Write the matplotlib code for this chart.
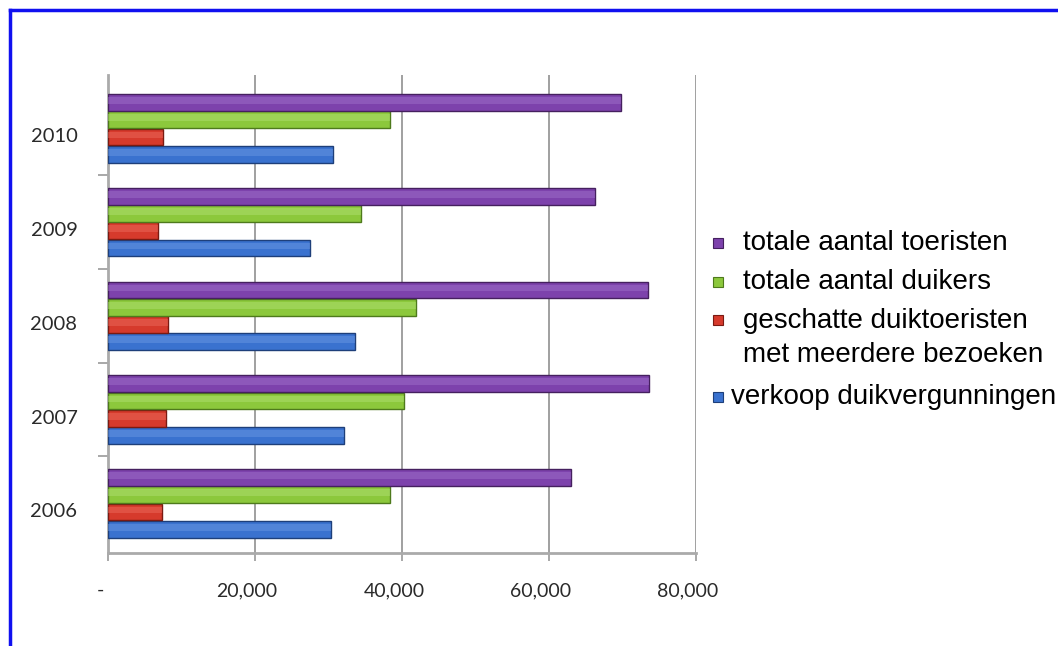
import matplotlib
matplotlib.use("Agg")
import matplotlib.pyplot as plt
import matplotlib.transforms as mtransforms
from matplotlib.patches import Rectangle
import numpy as np

years = ["2006", "2007", "2008", "2009", "2010"]
series_names = [
    "verkoop duikvergunningen",
    "geschatte duiktoeristen\nmet meerdere bezoeken",
    "totale aantal duikers",
    "totale aantal toeristen",
]
verkoop = [30400, 32100, 33600, 27500, 30600]
geschat = [7400, 7900, 8200, 6800, 7500]
duikers = [38400, 40300, 41900, 34400, 38400]
toeristen = [63000, 73600, 73500, 66300, 69800]
xticks = [0, 20000, 40000, 60000, 80000]
xticklabels = ["-", "20,000", "40,000", "60,000", "80,000"]

values = [verkoop, geschat, duikers, toeristen]
colors = ["#3A72CF", "#D63A2C", "#8CC83C", "#7D42AC"]
edges = ["#1E3F7A", "#7A1A12", "#4E7A1C", "#45205F"]
lights = ["#6E9BE4", "#EE6E60", "#B2E276", "#A274CC"]

W, H = 1058, 646
fig = plt.figure(figsize=(W / 100, H / 100), dpi=100)
fig.patch.set_facecolor("white")

# plot area in pixels
left, right, top, bottom = 108, 696, 75, 553
ax = fig.add_axes([left / W, (H - bottom) / H, (right - left) / W, (bottom - top) / H])

y = np.arange(len(years))
bh = 0.178
step = 0.184
offsets = np.array([-1.5, -0.5, 0.5, 1.5]) * step
for vals, off, c, e, lc in zip(values, offsets, colors, edges, lights):
    ax.barh(y + off, vals, height=bh, color=c, edgecolor=e, linewidth=1.0, zorder=3)
    ax.barh(y + off + bh * 0.12, vals, height=bh * 0.4, color=lc, linewidth=0,
            alpha=0.45, zorder=4)

ax.set_xlim(0, 80000)
ax.set_ylim(-0.53, 4.57)
ax.set_xticks(xticks)
ax.set_xticklabels(xticklabels, fontsize=14, color="#2A2A2A", family="Lato")
ax.set_yticks(y)
ax.set_yticklabels(years, fontsize=14.5, color="#2A2A2A", family="Lato")
ax.set_yticks(np.arange(len(years) - 1) + 0.5, minor=True)
ax.tick_params(axis="y", which="major", length=0, pad=22)
ax.tick_params(axis="y", which="minor", length=7, color="#999999", width=1.2)
ax.tick_params(axis="x", which="major", length=6, color="#999999", width=1.2, pad=15)

# shift tick labels a bit (3D front plane look)
for lab in ax.get_yticklabels():
    lab.set_transform(lab.get_transform() + mtransforms.ScaledTranslation(0, -7 / 100, fig.dpi_scale_trans))
for lab in ax.get_xticklabels():
    lab.set_transform(lab.get_transform() + mtransforms.ScaledTranslation(-8 / 100, 0, fig.dpi_scale_trans))

ax.grid(axis="x", color="#999999", linewidth=1.3, zorder=0)
for s in ["top", "right"]:
    ax.spines[s].set_visible(False)
for s in ["left", "bottom"]:
    ax.spines[s].set_color("#AAAAAA")
    ax.spines[s].set_linewidth(2)

# legend (manual)
leg_rows = [
    (3, 243, 743),
    (2, 282, 743),
    (1, 320, 743),
    (0, 397, 731),
]
for idx, ypx, xt in leg_rows:
    fig.patches.append(Rectangle(((713) / W, (H - ypx - 5) / H), 10 / W, 10 / H,
                                 transform=fig.transFigure, facecolor=colors[idx],
                                 edgecolor=edges[idx], linewidth=0.8))
    t = fig.text(xt / W, (H - ypx) / H, series_names[idx], fontsize=20,
                 family="Liberation Sans", va="center", ha="left", color="black",
                 linespacing=1.35)
    if "\n" in series_names[idx]:
        t.set_position((xt / W, (H - 338) / H))

# blue frame
fig.add_artist(plt.Line2D([10 / W, 10 / W], [0, (H - 10) / H], color="#1010F0", linewidth=2.5,
                          transform=fig.transFigure))
fig.add_artist(plt.Line2D([10 / W, 1], [(H - 10) / H, (H - 10) / H], color="#1010F0", linewidth=2.5,
                          transform=fig.transFigure))

fig.savefig("out.png", dpi=100)
